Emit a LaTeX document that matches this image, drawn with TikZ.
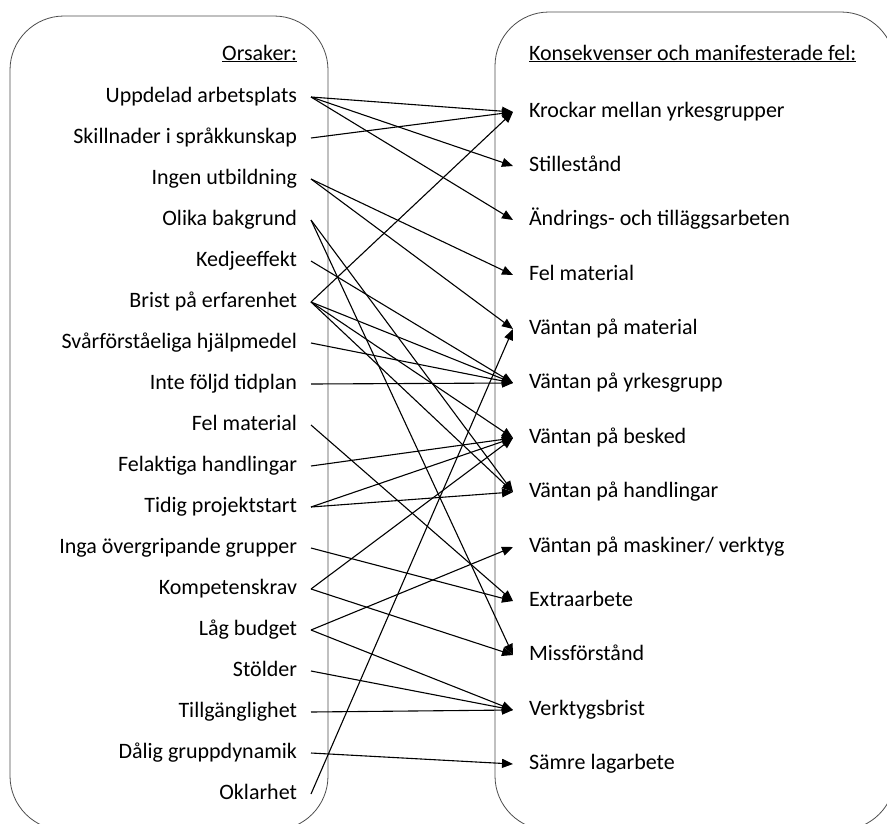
\documentclass[tikz,border=0pt]{standalone}
\usepackage{fontspec}
\setmainfont{Carlito}
\usetikzlibrary{arrows.meta}

\begin{document}
\begin{tikzpicture}[>={Triangle[length=11pt,width=9pt]},x=1pt,y=-1pt,font=\fontsize{22}{26}\selectfont]
\tikzstyle{frame}=[draw=black!70,line width=0.8pt,rounded corners=54pt]
\tikzstyle{cause}=[anchor=east,inner ysep=0pt,inner xsep=2pt,outer xsep=12pt,text height=15pt,text depth=5pt]
\tikzstyle{effect}=[anchor=west,inner ysep=0pt,inner xsep=2pt,outer xsep=14pt,text height=15pt,text depth=5pt]
\tikzstyle{link}=[->,line width=1.1pt]
\useasboundingbox (0,0) rectangle (887,823);
\draw[frame] (10,16) rectangle (328,830);
\draw[frame] (495,12) rectangle (895,830);
% causes
\node[cause] (orsak) at (311,55) {\underline{Orsaker:}};
\node[cause] (upp) at (311,97) {Uppdelad arbetsplats};
\node[cause] (sprak) at (311,138) {Skillnader i språkkunskap};
\node[cause] (utb) at (311,179) {Ingen utbildning};
\node[cause] (bakg) at (311,220) {Olika bakgrund};
\node[cause] (kedje) at (311,261) {Kedjeeffekt};
\node[cause] (brist) at (311,302) {Brist på erfarenhet};
\node[cause] (hjalp) at (311,343) {Svårförståeliga hjälpmedel};
\node[cause] (tidpl) at (311,384) {Inte följd tidplan};
\node[cause] (felmat) at (311,425) {Fel material};
\node[cause] (handl) at (311,466) {Felaktiga handlingar};
\node[cause] (tidig) at (311,507) {Tidig projektstart};
\node[cause] (inga) at (311,548) {Inga övergripande grupper};
\node[cause] (komp) at (311,589) {Kompetenskrav};
\node[cause] (budget) at (311,630) {Låg budget};
\node[cause] (stold) at (311,671) {Stölder};
\node[cause] (tillg) at (311,712) {Tillgänglighet};
\node[cause] (dynam) at (311,753) {Dålig gruppdynamik};
\node[cause] (oklar) at (311,794) {Oklarhet};
% effects
\node[effect] (kons) at (513,55) {\underline{Konsekvenser och manifesterade fel:}};
\node[effect] (krock) at (513,112) {Krockar mellan yrkesgrupper};
\node[effect] (still) at (513,166) {Stillestånd};
\node[effect] (andr) at (513,220) {Ändrings- och tilläggsarbeten};
\node[effect] (felm) at (513,275) {Fel material};
\node[effect] (vmat) at (513,329) {Väntan på material};
\node[effect] (vyrk) at (513,383) {Väntan på yrkesgrupp};
\node[effect] (vbesk) at (513,438) {Väntan på besked};
\node[effect] (vhandl) at (513,492) {Väntan på handlingar};
\node[effect] (vmask) at (513,547) {Väntan på maskiner/ verktyg};
\node[effect] (extra) at (513,601) {Extraarbete};
\node[effect] (miss) at (513,655) {Missförstånd};
\node[effect] (verkt) at (513,710) {Verktygsbrist};
\node[effect] (samre) at (513,764) {Sämre lagarbete};
% links
\draw[link] (upp.east) -- (krock.west);
\draw[link] (upp.east) -- (still.west);
\draw[link] (upp.east) -- (andr.west);
\draw[link] (sprak.east) -- (krock.west);
\draw[link] (utb.east) -- (felm.west);
\draw[link] (utb.east) -- (vmat.west);
\draw[link] (bakg.east) -- (vhandl.west);
\draw[link] (bakg.east) -- (miss.west);
\draw[link] (kedje.east) -- (vyrk.west);
\draw[link] (brist.east) -- (krock.west);
\draw[link] (brist.east) -- (vyrk.west);
\draw[link] (brist.east) -- (vbesk.west);
\draw[link] (brist.east) -- (vhandl.west);
\draw[link] (hjalp.east) -- (vyrk.west);
\draw[link] (tidpl.east) -- (vyrk.west);
\draw[link] (felmat.east) -- (extra.west);
\draw[link] (handl.east) -- (vbesk.west);
\draw[link] (tidig.east) -- (vbesk.west);
\draw[link] (tidig.east) -- (vhandl.west);
\draw[link] (inga.east) -- (extra.west);
\draw[link] (komp.east) -- (vbesk.west);
\draw[link] (komp.east) -- (miss.west);
\draw[link] (budget.east) -- (vmask.west);
\draw[link] (budget.east) -- (verkt.west);
\draw[link] (stold.east) -- (verkt.west);
\draw[link] (tillg.east) -- (verkt.west);
\draw[link] (dynam.east) -- (samre.west);
\draw[link] (oklar.east) -- (vmat.west);
\end{tikzpicture}
\end{document}
